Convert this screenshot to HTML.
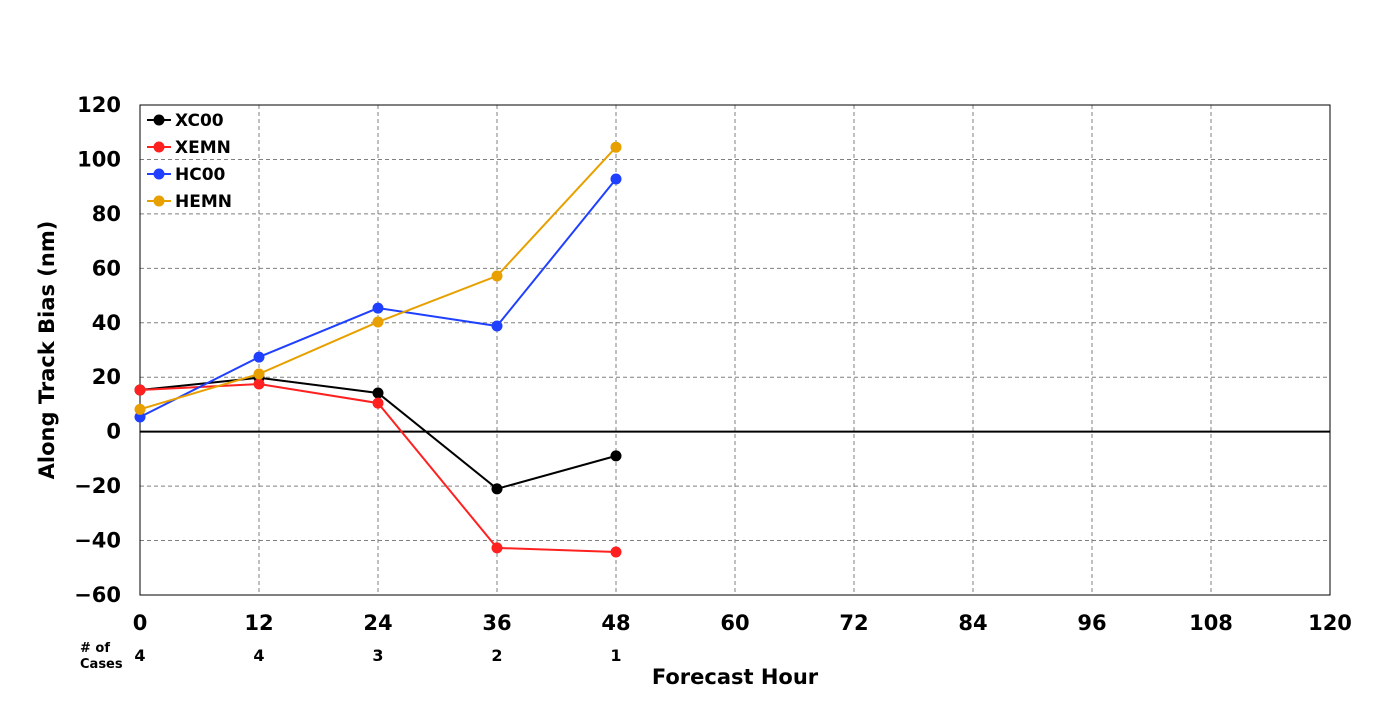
<!DOCTYPE html>
<html><head><meta charset="utf-8"><style>
body{margin:0;background:#fff;}
svg text{font-family:"DejaVu Sans","Liberation Sans",sans-serif;font-weight:bold;}
</style></head><body>
<svg id="c" width="1400" height="700"></svg>
<script>
const hours=[0,12,24,36,48];
const xc00=[15.3,19.8,14.2,-21,-8.9];
const xemn=[15.3,17.5,10.5,-42.7,-44.2];
const hc00=[5.4,27.4,45.4,38.8,92.8];
const hemn=[8.2,21.2,40.3,57.2,104.5];
const cases=[4,4,3,2,1];
const xTicks=[0,12,24,36,48,60,72,84,96,108,120];
const yTicks=[120,100,80,60,40,20,0,-20,-40,-60];
const seriesNames=["XC00","XEMN","HC00","HEMN"];
const seriesColors=["#000000","#ff2020","#2040ff","#e8a000"];
const seriesData=[xc00,xemn,hc00,hemn];
const L=140,R=1330,T=105,B=595;
const X=h=>L+(h-0)/(120-0)*(R-L);
const Y=v=>T+(120-v)/(180)*(B-T);
const svg=document.getElementById('c');
const NS='http://www.w3.org/2000/svg';
function mk(tag,attrs,parent){const e=document.createElementNS(NS,tag);for(const k in attrs)e.setAttribute(k,attrs[k]);(parent||svg).appendChild(e);return e;}
const grid=mk('g',{});


xTicks.forEach(t=>{if(t>0&&t<120)mk('line',{x1:X(t),x2:X(t),y1:T,y2:B,stroke:'#808080','stroke-dasharray':'4,3','stroke-width':1},grid);});
yTicks.forEach(t=>{if(t!==0&&t<120&&t>-60)mk('line',{x1:L,x2:R,y1:Y(t),y2:Y(t),stroke:'#808080','stroke-dasharray':'4,3','stroke-width':1},grid);});
const zl=mk('line',{x1:L,x2:R,y1:Y(0),y2:Y(0),stroke:'#000','stroke-width':2});


const fr=mk('rect',{x:L,y:T,width:R-L,height:B-T,fill:'none',stroke:'#000','stroke-width':1});


xTicks.forEach(t=>{const e=mk('text',{x:X(t),y:630,'font-size':21,'text-anchor':'middle'});e.textContent=t;

});
yTicks.forEach(t=>{const e=mk('text',{x:121,y:Y(t)+7,'font-size':21,'text-anchor':'end'});e.textContent=(t<0?'\u2212'+(-t):t);

});
hours.forEach((h,i)=>{const e=mk('text',{x:X(h),y:661,'font-size':16,'text-anchor':'middle'});e.textContent=cases[i];

});
let e=mk('text',{x:80,y:652,'font-size':13});e.textContent='# of';


e=mk('text',{x:80,y:668,'font-size':13});e.textContent='Cases';


e=mk('text',{x:735,y:684,'font-size':21,'text-anchor':'middle'});e.textContent='Forecast Hour';


e=mk('text',{x:54,y:350,'font-size':21,'text-anchor':'middle',transform:'rotate(-90 54 350)'});e.textContent='Along Track Bias (nm)';


seriesData.forEach((d,s)=>{
 const g=mk('g',{});
 
 
 mk('polyline',{points:d.map((v,i)=>X(hours[i])+','+Y(v)).join(' '),fill:'none',stroke:seriesColors[s],'stroke-width':2},g);
 d.forEach((v,i)=>{const c=mk('circle',{cx:X(hours[i]),cy:Y(v),r:5.5,fill:seriesColors[s]},g);
 
 });
 const ly=120+s*27;
 const lg=mk('g',{});
 
 
 mk('line',{x1:147,x2:171,y1:ly,y2:ly,stroke:seriesColors[s],'stroke-width':2},lg);
 mk('circle',{cx:159,cy:ly,r:5.5,fill:seriesColors[s]},lg);
 const t=mk('text',{x:175,y:ly+6,'font-size':17},lg);t.textContent=seriesNames[s];
});
</script>
</body></html>
